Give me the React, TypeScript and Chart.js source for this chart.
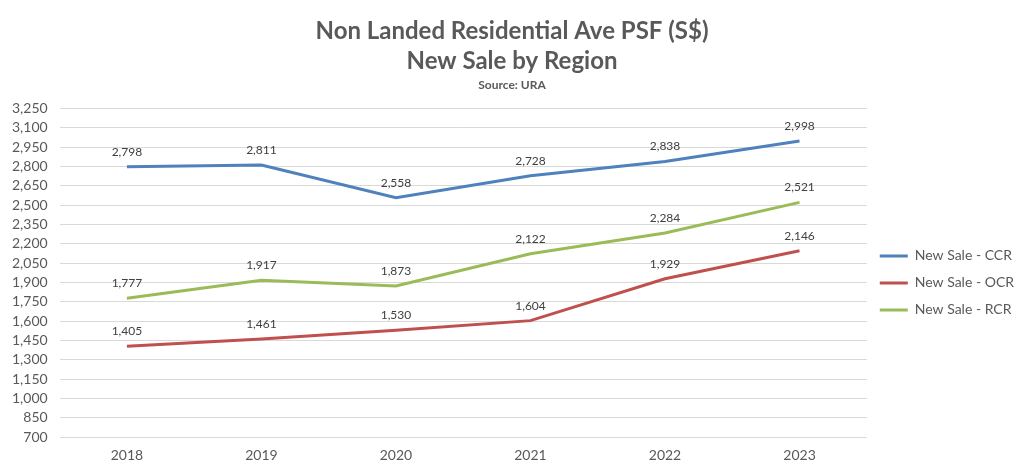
import React, { useEffect, useRef } from "react";
import { Chart, registerables } from "chart.js";

Chart.register(...registerables);

const years = ["2018", "2019", "2020", "2021", "2022", "2023"];
const ccr = [2798, 2811, 2558, 2728, 2838, 2998];
const ocr = [1405, 1461, 1530, 1604, 1929, 2146];
const rcr = [1777, 1917, 1873, 2122, 2284, 2521];
const seriesNames = ["New Sale - CCR", "New Sale - OCR", "New Sale - RCR"];
const seriesColors = ["#4f81bd", "#c0504d", "#9bbb59"];
const yMin = 700;
const yMax = 3250;
const yStep = 150;

const FONT = "Lato, 'Open Sans', sans-serif";
const fmt = (v: number) => v.toLocaleString("en-US");

const dataLabelPlugin = {
  id: "dataLabels",
  afterDatasetsDraw(chart: any) {
    const ctx = chart.ctx;
    ctx.save();
    ctx.font = `12px ${FONT}`;
    ctx.fillStyle = "#404040";
    ctx.textAlign = "center";
    ctx.textBaseline = "middle";
    chart.data.datasets.forEach((ds: any, i: number) => {
      const meta = chart.getDatasetMeta(i);
      meta.data.forEach((pt: any, j: number) => {
        ctx.fillText(fmt(ds.data[j]), pt.x, pt.y - 15);
      });
    });
    ctx.restore();
  },
};

export default function App() {
  const ref = useRef<HTMLCanvasElement>(null);
  useEffect(() => {
    document.body.style.margin = "0";
    const seriesData = [ccr, ocr, rcr];
    const chart = new Chart(ref.current!, {
      type: "line",
      data: {
        labels: years,
        datasets: seriesData.map((d, i) => ({
          label: seriesNames[i],
          data: d,
          borderColor: seriesColors[i],
          backgroundColor: seriesColors[i],
          borderWidth: 3,
          pointRadius: 0,
          tension: 0,
        })),
      },
      options: {
        animation: false,
        responsive: true,
        maintainAspectRatio: false,
        layout: { padding: { left: 0, right: 0, top: 0, bottom: 0 } },
        plugins: {
          title: {
            display: true,
            text: ["Non Landed Residential Ave PSF (S$)", "New Sale by Region"],
            color: "#595959",
            font: { family: FONT, size: 24, weight: "bold", lineHeight: 1.25 },
            padding: { top: 16, bottom: 2 },
          },
          subtitle: {
            display: true,
            text: "Source: URA",
            color: "#595959",
            font: { family: FONT, size: 12, weight: "bold" },
            padding: { top: 0, bottom: 16 },
          },
          legend: {
            position: "right",
            align: "center",
            fullSize: false,
            title: {
              display: true,
              text: " ",
              font: { family: FONT, size: 1 },
              padding: { top: 19, bottom: 0 },
            },
            labels: {
              usePointStyle: true,
              pointStyle: "line",
              pointStyleWidth: 28,
              color: "#595959",
              font: { family: FONT, size: 14 },
              padding: 13,
            },
          },
          tooltip: { enabled: false },
        },
        scales: {
          x: {
            offset: true,
            grid: { display: false, drawTicks: false },
            border: { display: false },
            ticks: {
              color: "#595959",
              font: { family: FONT, size: 14 },
              padding: 10,
            },
          },
          y: {
            min: yMin,
            max: yMax,
            grid: { color: "#d9d9d9", lineWidth: 1, drawTicks: false },
            border: { display: false },
            ticks: {
              stepSize: yStep,
              autoSkip: false,
              color: "#595959",
              font: { family: FONT, size: 14 },
              padding: 12,
              callback: (v: any) => fmt(Number(v)),
            },
          },
        },
      },
      plugins: [dataLabelPlugin],
    });
    return () => chart.destroy();
  }, []);
  return (
    <div style={{ position: "relative", width: 1024, height: 474 }}>
      <canvas ref={ref} />
    </div>
  );
}
